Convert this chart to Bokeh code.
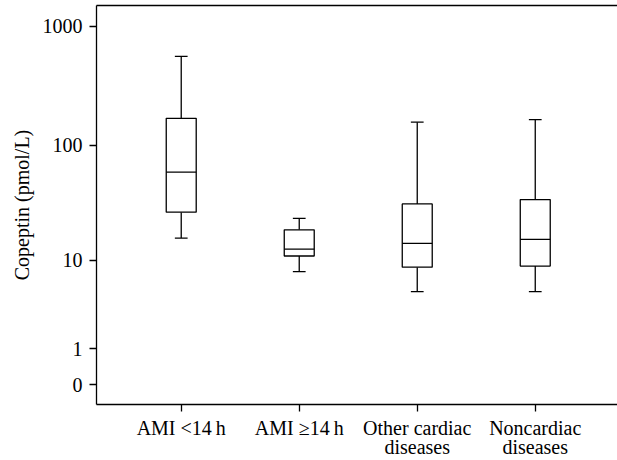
import numpy as np
from bokeh.plotting import figure
from bokeh.models import (Range1d, LinearAxis, FixedTicker, CustomJSTickFormatter,
                          ColumnDataSource)
from bokeh.embed import file_html
from bokeh.resources import INLINE

# ---- data ----
categories = ["AMI <14\u2009h", "AMI \u226514\u2009h", "Other cardiac\ndiseases", "Noncardiac\ndiseases"]
whisker_low = [15.8, 7.8, 5.0, 5.0]
q1 = [26.7, 10.9, 8.6, 8.8]
median = [59.0, 12.6, 14.2, 15.4]
q3 = [168.0, 18.7, 31.5, 34.3]
whisker_high = [557.0, 23.6, 156.0, 164.0]
y_tick_values = [0, 1, 10, 100, 1000]
y_label = "Copeptin (pmol/L)"

FONT = "Liberation Serif"
FS = "20px"
LW = 1.3


def tr(v):
    # the chart's axis is log10(value + 1)
    return np.log10(np.asarray(v, dtype=float) + 1.0)


xs = np.arange(1, len(categories) + 1)
src = ColumnDataSource(dict(
    x=xs,
    lo=tr(whisker_low), q1=tr(q1), med=tr(median), q3=tr(q3), hi=tr(whisker_high),
))

p = figure(width=617, height=460, output_backend="svg", toolbar_location=None,
           x_range=Range1d(0.282, 4.697), y_range=Range1d(-0.167, 3.172),
           x_axis_location=None, y_axis_location=None,
           min_border_left=96, min_border_right=0, min_border_top=5, min_border_bottom=0)
p.grid.visible = False
p.outline_line_color = None
p.background_fill_color = "white"
p.border_fill_color = "white"

BOX_W = 0.254
CAP_HW = 0.054

# whiskers
p.segment(x0="x", y0="q3", x1="x", y1="hi", source=src, line_color="black", line_width=LW)
p.segment(x0="x", y0="lo", x1="x", y1="q1", source=src, line_color="black", line_width=LW)
# caps
cap = ColumnDataSource(dict(x0=xs - CAP_HW, x1=xs + CAP_HW, lo=tr(whisker_low), hi=tr(whisker_high)))
p.segment(x0="x0", y0="hi", x1="x1", y1="hi", source=cap, line_color="black", line_width=LW)
p.segment(x0="x0", y0="lo", x1="x1", y1="lo", source=cap, line_color="black", line_width=LW)
# boxes
p.vbar(x="x", width=BOX_W, bottom="q1", top="q3", source=src,
       fill_color="white", line_color="black", line_width=LW)
# medians
med = ColumnDataSource(dict(x0=xs - BOX_W / 2, x1=xs + BOX_W / 2, m=tr(median)))
p.segment(x0="x0", y0="m", x1="x1", y1="m", source=med, line_color="black", line_width=LW)

# ---- y axis ----
yaxis = LinearAxis(
    ticker=FixedTicker(ticks=list(tr(y_tick_values))),
    formatter=CustomJSTickFormatter(code="return String(Math.round(Math.pow(10, tick) - 1))"),
    axis_label=y_label,
)
yaxis.axis_line_width = LW
yaxis.major_tick_line_width = LW
yaxis.major_tick_out = 7
yaxis.major_tick_in = 0
yaxis.minor_tick_out = 0
yaxis.minor_tick_in = 0
yaxis.major_label_standoff = 7
yaxis.major_label_text_font = FONT
yaxis.major_label_text_font_size = FS
yaxis.major_label_text_color = "black"
yaxis.axis_label_text_font = FONT
yaxis.axis_label_text_font_size = FS
yaxis.axis_label_text_font_style = "normal"
yaxis.axis_label_text_color = "black"
yaxis.axis_label_standoff = 7
p.add_layout(yaxis, "left")

# ---- x axes (two label lines) ----
line1 = [c.split("\n")[0] for c in categories]
line2 = [c.split("\n")[1] if "\n" in c else "" for c in categories]

xaxis = LinearAxis(
    ticker=FixedTicker(ticks=list(xs)),
    formatter=CustomJSTickFormatter(args=dict(labels=line1),
                                    code="return labels[Math.round(tick) - 1] || ''"),
)
xaxis.axis_line_width = LW
xaxis.major_tick_line_width = LW
xaxis.major_tick_out = 7
xaxis.major_tick_in = 0
xaxis.minor_tick_out = 0
xaxis.minor_tick_in = 0
xaxis.major_label_standoff = 5
xaxis.major_label_text_font = FONT
xaxis.major_label_text_font_size = FS
xaxis.major_label_text_color = "black"
p.add_layout(xaxis, "below")

xaxis2 = LinearAxis(
    ticker=FixedTicker(ticks=list(xs)),
    formatter=CustomJSTickFormatter(args=dict(labels=line2),
                                    code="return labels[Math.round(tick) - 1] || ''"),
)
xaxis2.axis_line_color = None
xaxis2.major_tick_line_color = None
xaxis2.minor_tick_line_color = None
xaxis2.major_tick_out = 0
xaxis2.major_tick_in = 0
xaxis2.minor_tick_out = 0
xaxis2.minor_tick_in = 0
xaxis2.major_label_standoff = -6
xaxis2.major_label_text_font = FONT
xaxis2.major_label_text_font_size = FS
xaxis2.major_label_text_color = "black"
p.add_layout(xaxis2, "below")

# top border line
top = LinearAxis(ticker=FixedTicker(ticks=[]))
top.axis_line_width = LW
top.major_tick_out = 0
top.major_tick_in = 0
top.minor_tick_out = 0
top.minor_tick_in = 0
top.major_label_standoff = 0
top.major_label_text_font_size = "0px"
p.add_layout(top, "above")

open("out.html", "w").write(file_html(p, INLINE))
